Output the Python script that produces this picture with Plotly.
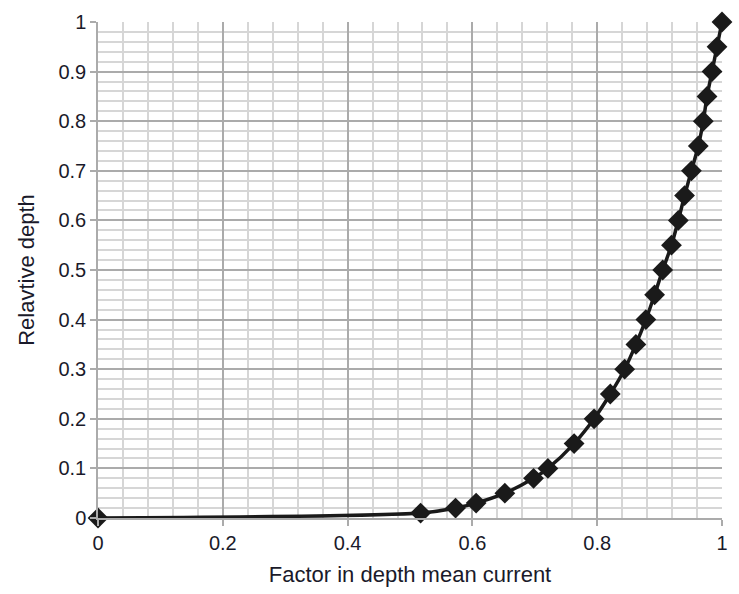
import plotly.graph_objects as go

factor = [0.0, 0.517, 0.573, 0.606, 0.652, 0.698, 0.721, 0.763, 0.795, 0.821,
          0.844, 0.862, 0.878, 0.892, 0.905, 0.919, 0.930, 0.940, 0.951, 0.962,
          0.970, 0.976, 0.984, 0.992, 1.0]
depth = [0.0, 0.01, 0.02, 0.03, 0.05, 0.08, 0.10, 0.15, 0.20, 0.25,
         0.30, 0.35, 0.40, 0.45, 0.50, 0.55, 0.60, 0.65, 0.70, 0.75,
         0.80, 0.85, 0.90, 0.95, 1.0]

fig = go.Figure()
fig.add_trace(go.Scatter(
    x=factor, y=depth, mode="lines+markers",
    line=dict(color="#1a1a1a", width=3.5, shape="spline", smoothing=0.8),
    marker=dict(symbol="diamond", size=16, color="#1a1a1a"),
    cliponaxis=False, showlegend=False))

font = dict(family="Liberation Sans, Arial, sans-serif", size=20, color="#1a1a2a")
tfont = dict(family="Liberation Sans, Arial, sans-serif", size=22, color="#1a1a2a")

fig.update_layout(
    width=739, height=594,
    margin=dict(l=98, r=11, t=20, b=75),
    paper_bgcolor="white", plot_bgcolor="white",
    font=font,
    xaxis=dict(
        range=[0, 1], dtick=0.2, tick0=0,
        showgrid=True, gridcolor="#ababab", gridwidth=1.5,
        minor=dict(dtick=0.04, showgrid=True, gridcolor="#d6d6d6", gridwidth=1.5),
        ticks="outside", ticklen=6, tickcolor="#ababab", tickwidth=1.5,
        showline=True, linecolor="#ababab", linewidth=1.5,
        zeroline=False,
        title=dict(text="Factor in depth mean current", standoff=14, font=tfont),
        tickfont=font,
    ),
    yaxis=dict(
        range=[0, 1], dtick=0.1, tick0=0,
        showgrid=True, gridcolor="#ababab", gridwidth=1.5,
        minor=dict(dtick=0.02, showgrid=True, gridcolor="#d6d6d6", gridwidth=1.5),
        ticks="outside", ticklen=6, tickcolor="#ababab", tickwidth=1.5,
        showline=True, linecolor="#ababab", linewidth=1.5,
        zeroline=False,
        title=dict(text="Relavtive depth", standoff=18, font=tfont),
        tickfont=font,
    ),
)

fig.write_html("out.html")
